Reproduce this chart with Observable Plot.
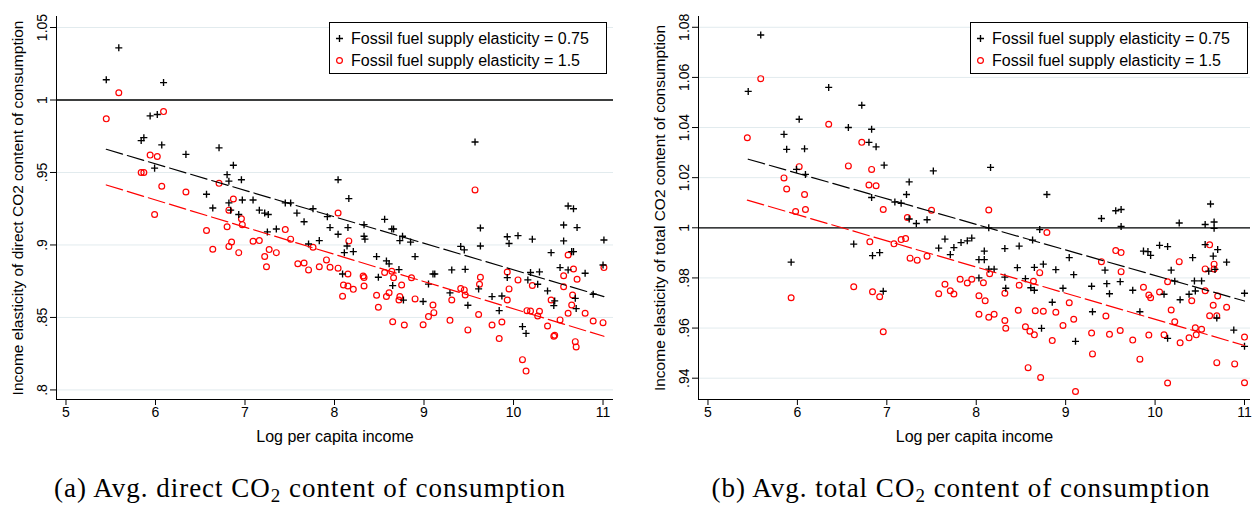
<!DOCTYPE html>
<html><head><meta charset="utf-8">
<script src="https://cdn.jsdelivr.net/npm/d3@7"></script>
<script src="https://cdn.jsdelivr.net/npm/@observablehq/plot@0.6"></script>
<style>
html,body{margin:0;padding:0;background:#fff;}
#wrap{position:relative;width:1252px;height:505px;overflow:hidden;font-family:"Liberation Sans",Arial,sans-serif;}
.panel{position:absolute;top:0;}
.legend{position:absolute;top:22px;width:278px;height:52px;border:1px solid #000;box-sizing:border-box;background:#fff;}
.legend svg{position:absolute;left:0;top:0;}
.cap{position:absolute;top:473px;font-family:"Liberation Serif",serif;font-size:27px;letter-spacing:1px;white-space:nowrap;transform:translateX(-50%);color:#000;}
.cap sub{font-size:19px;vertical-align:-5px;line-height:0;}
</style></head>
<body><div id="wrap"></div>
<script>
// ---------- data ----------
const seriesNames = ["Fossil fuel supply elasticity = 0.75", "Fossil fuel supply elasticity = 1.5"];
const xTicks = [5, 6, 7, 8, 9, 10, 11];
const xTickLabels = ["5", "6", "7", "8", "9", "10", "11"];
const xTitle = "Log per capita income";

// Panel (a): direct CO2 content
const directTicks = [0.8, 0.85, 0.9, 0.95, 1, 1.05];
const directTickLabels = [".8", ".85", ".9", ".95", "1", "1.05"];
const directTitle = "Income elasticity of direct CO2 content of consumption";
const directCaption = ["(a) Avg. direct CO", "2", " content of consumption"];

const direct075X = [5.45,5.59,5.84,5.87,5.94,5.99,6.02,6.07,6.09,6.34,6.57,6.64,6.71,6.80,6.82,6.82,6.84,6.87,6.93,6.96,6.97,7.09,7.16,7.22,7.25,7.26,7.35,7.45,7.51,7.58,7.66,7.71,7.76,7.83,7.92,7.95,8.04,8.04,8.09,8.11,8.14,8.15,8.16,8.21,8.33,8.33,8.34,8.47,8.49,8.56,8.58,8.61,8.64,8.65,8.66,8.72,8.73,8.76,8.77,8.85,8.90,8.99,9.05,9.10,9.12,9.29,9.31,9.41,9.45,9.46,9.49,9.57,9.61,9.63,9.63,9.76,9.84,9.87,9.93,9.93,9.95,10.05,10.10,10.14,10.16,10.19,10.21,10.27,10.29,10.38,10.42,10.45,10.46,10.52,10.56,10.56,10.61,10.61,10.65,10.67,10.67,10.69,10.70,10.71,10.80,10.89,11.00,11.01];
const direct075Y = [1.014,1.036,0.972,0.974,0.989,0.953,0.990,0.969,1.012,0.9625,0.935,0.9255,0.967,0.9485,0.944,0.929,0.924,0.955,0.921,0.945,0.931,0.931,0.924,0.922,0.909,0.921,0.911,0.929,0.929,0.922,0.916,0.9007,0.925,0.903,0.9195,0.912,0.945,0.9074,0.880,0.8947,0.8993,0.912,0.932,0.8954,0.914,0.906,0.904,0.892,0.8777,0.9177,0.889,0.887,0.911,0.872,0.911,0.883,0.903,0.906,0.862,0.902,0.892,0.861,0.873,0.880,0.880,0.867,0.8828,0.899,0.8966,0.8832,0.8584,0.971,0.8697,0.9117,0.8993,0.8644,0.8547,0.8648,0.9057,0.8775,0.901,0.9064,0.8437,0.839,0.8759,0.881,0.904,0.8729,0.8814,0.8683,0.8947,0.8582,0.8614,0.8844,0.9138,0.9028,0.8828,0.9269,0.8954,0.925,0.8954,0.8632,0.8561,0.912,0.8805,0.866,0.8862,0.9034];
const direct15X = [5.45,5.59,5.84,5.87,5.94,5.99,6.02,6.07,6.09,6.34,6.57,6.64,6.71,6.80,6.82,6.82,6.85,6.87,6.93,6.96,6.97,7.09,7.16,7.22,7.24,7.27,7.35,7.45,7.51,7.59,7.66,7.71,7.76,7.83,7.91,7.95,8.04,8.04,8.09,8.10,8.15,8.15,8.16,8.21,8.32,8.33,8.33,8.47,8.49,8.56,8.58,8.61,8.64,8.65,8.66,8.72,8.73,8.75,8.78,8.86,8.90,8.99,9.05,9.10,9.11,9.29,9.31,9.41,9.45,9.46,9.49,9.57,9.61,9.62,9.63,9.76,9.84,9.87,9.93,9.93,9.95,10.05,10.10,10.14,10.15,10.19,10.21,10.27,10.29,10.38,10.42,10.45,10.46,10.52,10.56,10.56,10.61,10.61,10.65,10.67,10.66,10.69,10.70,10.71,10.80,10.89,11.00,11.01];
const direct15Y = [0.987,1.005,0.950,0.950,0.962,0.921,0.961,0.9405,0.992,0.9365,0.910,0.897,0.9425,0.9126,0.924,0.899,0.902,0.9317,0.8947,0.918,0.914,0.9026,0.903,0.892,0.885,0.8968,0.8947,0.9106,0.904,0.887,0.8876,0.8828,0.8984,0.885,0.8897,0.8846,0.922,0.884,0.8646,0.8724,0.8717,0.880,0.9028,0.8694,0.8786,0.8775,0.8717,0.8653,0.857,0.881,0.8644,0.867,0.8819,0.847,0.8774,0.862,0.8644,0.8724,0.8448,0.8774,0.8628,0.845,0.8506,0.8586,0.8533,0.848,0.862,0.870,0.869,0.8655,0.8414,0.938,0.852,0.8729,0.8777,0.8448,0.8354,0.8469,0.8814,0.862,0.8697,0.8759,0.8209,0.813,0.8547,0.8545,0.872,0.851,0.8543,0.8441,0.862,0.837,0.8377,0.8483,0.8788,0.8712,0.8529,0.8931,0.8586,0.8834,0.8655,0.8333,0.8297,0.8763,0.8529,0.8476,0.8464,0.8844];

// Panel (b): total CO2 content
const totalTicks = [0.94, 0.96, 0.98, 1, 1.02, 1.04, 1.06, 1.08];
const totalTickLabels = [".94", ".96", ".98", "1", "1.02", "1.04", "1.06", "1.08"];
const totalTitle = "Income elasticity of total CO2 content of consumption";
const totalCaption = ["(b) Avg. total CO", "2", " content of consumption"];

const total075X = [5.45,5.59,5.85,5.88,5.93,5.99,6.02,6.08,6.09,6.35,6.57,6.63,6.72,6.80,6.83,6.83,6.84,6.88,6.92,6.96,6.97,7.09,7.16,7.22,7.25,7.25,7.33,7.45,7.52,7.58,7.65,7.71,7.75,7.83,7.90,7.95,8.03,8.03,8.09,8.09,8.14,8.14,8.16,8.20,8.32,8.32,8.33,8.46,8.48,8.55,8.61,8.63,8.65,8.65,8.71,8.73,8.75,8.79,8.85,8.89,8.97,9.04,9.09,9.11,9.29,9.30,9.40,9.44,9.46,9.49,9.56,9.61,9.62,9.62,9.75,9.83,9.87,9.92,9.95,10.05,10.10,10.14,10.14,10.18,10.22,10.27,10.28,10.38,10.42,10.44,10.45,10.52,10.56,10.56,10.60,10.62,10.65,10.66,10.66,10.67,10.69,10.70,10.80,10.88,11.00,11.00];
const total075Y = [1.0544,1.0769,1.0373,1.0313,0.9863,1.0233,1.0433,1.0315,1.0213,1.056,1.040,0.9935,1.0489,1.0341,1.0393,1.0121,0.9889,1.0323,0.9901,0.9747,1.025,1.0103,1.0098,1.0133,1.0183,1.0035,1.0017,1.0032,1.0227,0.9919,0.9955,0.9893,0.9921,0.9941,0.9948,0.9959,0.9873,0.980,0.9907,0.9873,1.000,0.9835,1.0241,0.9835,0.9917,0.9803,0.9759,0.9841,0.9927,0.9797,0.9761,0.9951,0.9751,0.9842,0.9993,0.9599,0.9855,1.0133,0.9703,0.9833,0.9759,0.9881,0.9813,0.9547,0.9767,0.9665,1.0037,0.9831,0.9777,0.9737,1.0068,0.9785,1.0073,1.0005,0.9751,0.9665,0.9907,0.9905,0.989,0.993,0.9735,0.9925,0.9559,0.9831,0.9787,1.0019,0.9713,0.9735,0.9881,0.9788,0.9748,0.9788,1.0013,0.9933,0.9827,1.0095,0.9887,1.0023,0.9998,0.9834,0.964,0.9913,0.9863,0.9592,0.9739,0.9527];
const total15X = [5.44,5.59,5.85,5.88,5.93,5.98,6.02,6.08,6.09,6.35,6.57,6.63,6.72,6.80,6.81,6.83,6.84,6.88,6.92,6.96,6.96,7.08,7.16,7.21,7.23,7.26,7.34,7.45,7.50,7.58,7.65,7.71,7.75,7.82,7.90,7.95,8.03,8.03,8.08,8.10,8.14,8.14,8.15,8.20,8.32,8.32,8.33,8.47,8.48,8.55,8.58,8.60,8.64,8.65,8.66,8.71,8.72,8.75,8.79,8.85,8.89,8.97,9.04,9.09,9.11,9.29,9.30,9.40,9.45,9.49,9.56,9.61,9.62,9.62,9.75,9.83,9.87,9.93,9.93,9.95,10.05,10.10,10.14,10.14,10.18,10.22,10.27,10.28,10.38,10.41,10.45,10.46,10.52,10.56,10.56,10.61,10.61,10.65,10.66,10.66,10.69,10.69,10.70,10.80,10.89,11.00,11.00];
const total15Y = [1.0359,1.0595,1.0199,1.0155,0.9721,1.0065,1.0244,1.0133,1.0073,1.0413,1.0247,0.9765,1.0341,1.0171,0.9944,1.0233,0.9745,1.0168,0.9725,1.0073,0.9585,0.9936,0.9953,0.9957,1.0041,0.9879,0.9871,0.9887,1.007,0.9737,0.9775,0.9749,0.9736,0.9795,0.978,0.9795,0.9655,0.9729,0.9781,0.9709,1.0071,0.9643,0.9817,0.9655,0.9739,0.963,0.9599,0.9671,0.9771,0.9605,0.9442,0.9587,0.9787,0.9573,0.9669,0.9821,0.9403,0.9667,0.9981,0.955,0.9663,0.961,0.9701,0.9635,0.9347,0.958,0.9497,0.9865,0.9648,0.9575,0.9909,0.959,0.9901,0.9825,0.9552,0.9476,0.9763,0.9732,0.9572,0.9721,0.9744,0.9573,0.9785,0.9381,0.9672,0.9625,0.9865,0.9541,0.9561,0.9709,0.9601,0.9573,0.9595,0.9836,0.9749,0.9932,0.9649,0.9691,0.9855,0.9836,0.9649,0.9462,0.9728,0.9683,0.9457,0.9564,0.9382];

// ---------- drawing ----------
const BLACK = "#000000", RED = "#ff0000";
const PLUS_R = 2.4, CIRCLE_R = 2.9;

function zipXY(xs, ys) { return xs.map((x, i) => ({x, y: ys[i]})); }

function panel({width, marginRight, xDomain, yDomain, yTicks, yTickLabels, yTitle, s1, s2}) {
  const xLab = new Map(xTicks.map((t, i) => [t, xTickLabels[i]]));
  const yLab = new Map(yTicks.map((t, i) => [t, yTickLabels[i]]));
  return Plot.plot({
    width, height: 450,
    marginLeft: 56, marginRight, marginTop: 16, marginBottom: 51,
    x: {domain: xDomain},
    y: {domain: yDomain},
    style: {fontFamily: '"Liberation Sans", Arial, sans-serif', color: "#000", background: "transparent", overflow: "visible"},
    marks: [
      Plot.gridY(yTicks, {stroke: "#e2ebee", strokeOpacity: 1, strokeWidth: 1}),
      Plot.ruleY([1], {stroke: BLACK, strokeWidth: 1.3}),
      Plot.ruleX([xDomain[0]], {stroke: BLACK, strokeWidth: 1}),
      Plot.ruleY([yDomain[0]], {stroke: BLACK, strokeWidth: 1}),
      Plot.axisX(xTicks, {tickSize: 6, tickPadding: 2, fontSize: 14, tickFormat: d => xLab.get(d), label: null}),
      Plot.axisY(yTicks, {tickSize: 6, tickPadding: 4, fontSize: 14, tickRotate: -90, tickFormat: d => yLab.get(d), label: null}),
      Plot.text([xTitle], {frameAnchor: "bottom", dy: 37, fontSize: 16, lineAnchor: "middle"}),
      Plot.text([yTitle], {frameAnchor: "left", dx: -38, fontSize: 15.5, rotate: -90, lineAnchor: "middle", textAnchor: "middle"}),
      Plot.dot(s2, {x: "x", y: "y", r: CIRCLE_R, stroke: RED, strokeWidth: 1.2, fill: "none"}),
      Plot.dot(s1, {x: "x", y: "y", r: PLUS_R, symbol: "plus", stroke: BLACK, strokeWidth: 1.35}),
      Plot.linearRegressionY(s1, {x: "x", y: "y", stroke: BLACK, strokeWidth: 1.2, strokeDasharray: "17,5", ci: 0}),
      Plot.linearRegressionY(s2, {x: "x", y: "y", stroke: RED, strokeWidth: 1.2, strokeDasharray: "17,5", ci: 0})
    ]
  });
}

const wrap = d3.select("#wrap");

const left = panel({
  width: 626, marginRight: 13,
  xDomain: [4.894, 11.117], yDomain: [0.7934, 1.0576],
  yTicks: directTicks, yTickLabels: directTickLabels, yTitle: directTitle,
  s1: zipXY(direct075X, direct075Y), s2: zipXY(direct15X, direct15Y)
});
left.classList.add("panel"); left.style.left = "0px";
wrap.node().appendChild(left);

const right = panel({
  width: 610, marginRight: 2,
  xDomain: [4.894, 11.067], yDomain: [0.9315, 1.0843],
  yTicks: totalTicks, yTickLabels: totalTickLabels, yTitle: totalTitle,
  s1: zipXY(total075X, total075Y), s2: zipXY(total15X, total15Y)
});
right.classList.add("panel"); right.style.left = "642px";
wrap.node().appendChild(right);

function legend(leftPx) {
  const div = wrap.append("div").attr("class", "legend").style("left", leftPx + "px");
  const svg = div.append("svg").attr("width", 276).attr("height", 50);
  const plus = d3.symbol(d3.symbolPlus, Math.PI * PLUS_R * PLUS_R)();
  svg.append("path").attr("d", plus).attr("transform", "translate(9.5,15.5)")
    .attr("fill", "none").attr("stroke", BLACK).attr("stroke-width", 1.35);
  svg.append("circle").attr("cx", 9.5).attr("cy", 37.5).attr("r", CIRCLE_R)
    .attr("fill", "none").attr("stroke", RED).attr("stroke-width", 1.2);
  [15.5, 37.5].forEach((y, i) => {
    svg.append("text").attr("x", 21).attr("y", y).attr("dy", "0.35em")
      .attr("font-family", '"Liberation Sans", Arial, sans-serif').attr("font-size", 16)
      .text(seriesNames[i]);
  });
}
legend(329);
legend(970);

function caption(parts, centerX) {
  const d = wrap.append("div").attr("class", "cap").style("left", centerX + "px");
  d.append("span").text(parts[0]);
  d.append("sub").text(parts[1]);
  d.append("span").text(parts[2]);
}
caption(directCaption, 310);
caption(totalCaption, 961);
</script>
</body></html>
